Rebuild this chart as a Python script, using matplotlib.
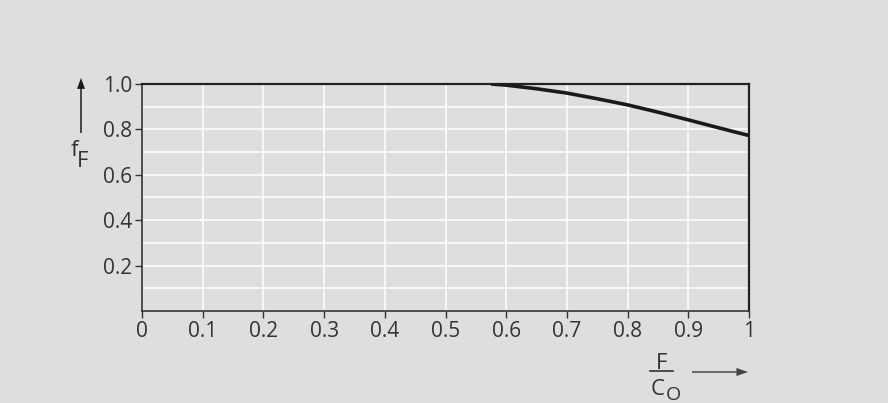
import matplotlib
matplotlib.use("Agg")
import matplotlib.pyplot as plt
from matplotlib.ticker import MultipleLocator

# curve
load_ratio = [0.575, 0.6, 0.65, 0.7, 0.75, 0.8, 0.85, 0.9, 0.95, 1.0]
factor = [1.0, 0.995, 0.979, 0.96, 0.935, 0.908, 0.876, 0.842, 0.807, 0.773]
x_ticks = [0, 0.1, 0.2, 0.3, 0.4, 0.5, 0.6, 0.7, 0.8, 0.9, 1]
x_labels = ["0", "0.1", "0.2", "0.3", "0.4", "0.5", "0.6", "0.7", "0.8", "0.9", "1"]
y_ticks = [0.2, 0.4, 0.6, 0.8, 1.0]
y_labels = ["0.2", "0.4", "0.6", "0.8", "1.0"]

bg = "#dddee0"
ink = "#333333"
plt.rcParams["font.family"] = ["Open Sans", "DejaVu Sans"]

W, H = 888, 403
fig = plt.figure(figsize=(W / 100, H / 100), dpi=100, facecolor=bg)
ax = fig.add_axes([142 / W, 1 - 311 / H, (749 - 142) / W, (311 - 84) / H])
ax.set_facecolor(bg)

ax.plot(load_ratio, factor, color="#1a1a1a", lw=2.6, solid_capstyle="butt",
        solid_joinstyle="round", zorder=3)

ax.set_xlim(0, 1)
ax.set_ylim(0, 1.0)
ax.set_xticks(x_ticks)
ax.set_xticklabels(x_labels)
ax.set_yticks(y_ticks)
ax.set_yticklabels(y_labels)
ax.yaxis.set_minor_locator(MultipleLocator(0.1))
ax.grid(True, which="major", axis="x", color="white", lw=1.1)
ax.grid(True, which="both", axis="y", color="white", lw=1.1)
ax.tick_params(which="minor", length=0)
ax.tick_params(which="major", length=5, width=1, color=ink, labelcolor=ink,
               labelsize=15, pad=2)
for s in ["left", "bottom"]:
    ax.spines[s].set_color(ink)
    ax.spines[s].set_linewidth(1.2)
for s in ["top", "right"]:
    ax.spines[s].set_color("#222222")
    ax.spines[s].set_linewidth(1.6)

def fx(px):
    return px / W

def fy(py):
    return 1 - py / H

# y label with arrow
fig.patches.append(matplotlib.patches.FancyArrow(
    fx(81), fy(133), 0, fy(78) - fy(133), width=0.0017, head_width=0.009,
    head_length=0.027, length_includes_head=True, color="#1a1a1a", lw=0,
    transform=fig.transFigure, figure=fig))
fig.text(fx(71), fy(156), "f", color=ink, fontsize=16, va="baseline", ha="left")
fig.text(fx(77), fy(167), "F", color=ink, fontsize=16, va="baseline", ha="left")

# x label: F over C_O with arrow
fig.text(fx(662), fy(369), "F", color=ink, fontsize=16, ha="center", va="baseline")
fig.add_artist(plt.Line2D([fx(650), fx(673)], [fy(371), fy(371)],
                          color=ink, lw=1.2, transform=fig.transFigure))
fig.text(fx(651), fy(395), "C", color=ink, fontsize=16, ha="left", va="baseline")
fig.text(fx(666), fy(400), "O", color=ink, fontsize=14, ha="left", va="baseline")
fig.patches.append(matplotlib.patches.FancyArrow(
    fx(692), fy(372), fx(748) - fx(692), 0, width=0.0037, head_width=0.02,
    head_length=0.013, length_includes_head=True, color="#444444", lw=0,
    transform=fig.transFigure, figure=fig))

fig.savefig("out.png", dpi=100, facecolor=bg)
